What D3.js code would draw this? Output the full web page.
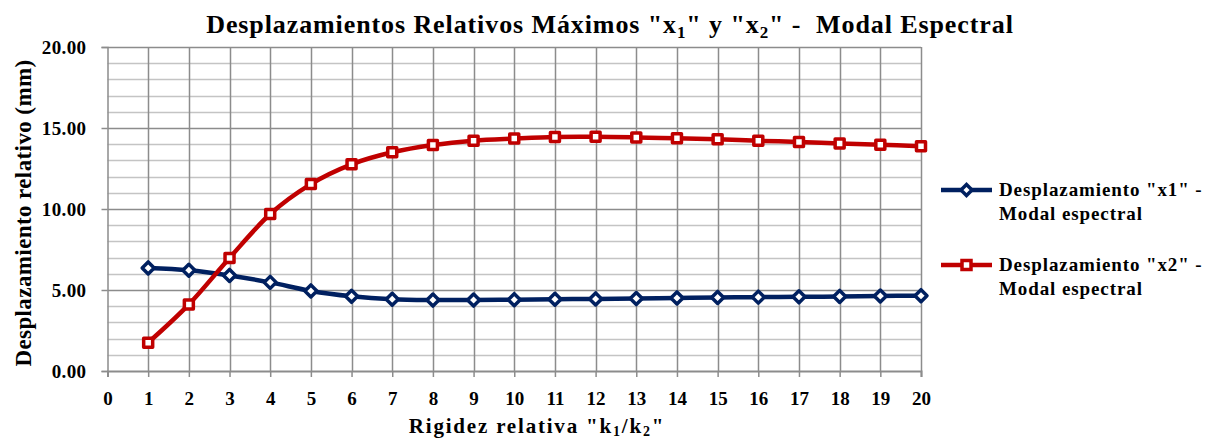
<!DOCTYPE html>
<html>
<head>
<meta charset="utf-8">
<script src="https://cdn.jsdelivr.net/npm/d3@7"></script>
<style>
  html, body { margin: 0; padding: 0; background: #fff; }
  svg { display: block; }
</style>
</head>
<body>
<svg id="chart" width="1214" height="439"></svg>
<script>
// Relative stiffness k1/k2
const stiffness = [1, 2, 3, 4, 5, 6, 7, 8, 9, 10, 11, 12, 13, 14, 15, 16, 17, 18, 19, 20];
// Maximum relative displacement x1 (mm), modal spectral
const dispX1 = [6.36, 6.22, 5.90, 5.47, 4.94, 4.61, 4.43, 4.38, 4.38, 4.40, 4.43, 4.45, 4.47, 4.51, 4.54, 4.56, 4.58, 4.60, 4.63, 4.65];
// Maximum relative displacement x2 (mm), modal spectral
const dispX2 = [1.75, 4.11, 6.98, 9.69, 11.54, 12.76, 13.50, 13.95, 14.22, 14.35, 14.45, 14.46, 14.42, 14.36, 14.30, 14.21, 14.14, 14.05, 13.97, 13.87];
const xTicks = d3.range(0, 21);
const yMajorTicks = [0, 5, 10, 15, 20];
const yMinorTicks = d3.range(0, 21);
const seriesNames = ['Desplazamiento "x1" -', 'Desplazamiento "x2" -'];
const seriesSub = "Modal espectral";

const FONT = "Liberation Serif";
const svg = d3.select("#chart");
const plot = { left: 107.5, right: 921, top: 47, bottom: 371 };

const x = d3.scaleLinear().domain([0, 20]).range([plot.left, plot.right]);
const y = d3.scaleLinear().domain([0, 20]).range([plot.bottom, plot.top]);

const blue = "#002060", red = "#C00000";
const gridDark = "#8c8c8c", gridLight = "#c4c4c4";

function serif(sel, size) {
  return sel.attr("font-family", FONT).attr("font-weight", "bold").attr("font-size", size).attr("fill", "#000");
}

// Minor horizontal grid
svg.append("g").selectAll("line").data(yMinorTicks.filter(v => v % 5 !== 0)).join("line")
  .attr("x1", plot.left).attr("x2", plot.right)
  .attr("y1", d => Math.round(y(d)) + 0.5).attr("y2", d => Math.round(y(d)) + 0.5)
  .attr("stroke", gridLight).attr("stroke-width", 1.5);

// Vertical grid
svg.append("g").selectAll("line").data(xTicks.slice(1)).join("line")
  .attr("x1", d => Math.round(x(d)) + 0.5).attr("x2", d => Math.round(x(d)) + 0.5)
  .attr("y1", plot.top).attr("y2", plot.bottom)
  .attr("stroke", gridDark).attr("stroke-width", 1.5);

// Major horizontal grid
svg.append("g").selectAll("line").data(yMajorTicks.filter(v => v > 0)).join("line")
  .attr("x1", plot.left).attr("x2", plot.right)
  .attr("y1", d => Math.round(y(d)) + 0.5).attr("y2", d => Math.round(y(d)) + 0.5)
  .attr("stroke", gridDark).attr("stroke-width", 1.5);

// Y axis
const yAxis = svg.append("g").attr("transform", `translate(${plot.left},0)`)
  .call(d3.axisLeft(y).tickValues(yMajorTicks).tickFormat(d3.format(".2f")).tickSize(6).tickPadding(15));
yAxis.attr("font-family", null);
yAxis.select(".domain").attr("stroke", gridDark).attr("stroke-width", 1.5);
yAxis.selectAll(".tick line").attr("stroke", gridDark).attr("stroke-width", 1.5);
serif(yAxis.selectAll(".tick text"), 19).attr("letter-spacing", 0.4).attr("dy", "0.33em");

// X axis
const xAxis = svg.append("g").attr("transform", `translate(0,${plot.bottom})`)
  .call(d3.axisBottom(x).tickValues(xTicks).tickFormat(d3.format("d")).tickSize(6).tickPadding(15));
xAxis.attr("font-family", null);
xAxis.select(".domain").attr("stroke", gridDark).attr("stroke-width", 2);
xAxis.selectAll(".tick line").attr("stroke", gridDark).attr("stroke-width", 1.5);
serif(xAxis.selectAll(".tick text"), 19);

// Smoothed series lines
const line = d3.line().x((d, i) => x(stiffness[i])).y(d => y(d)).curve(d3.curveCatmullRom.alpha(0));
svg.append("path").datum(dispX1).attr("d", line).attr("fill", "none")
  .attr("stroke", blue).attr("stroke-width", 4.5).attr("stroke-linejoin", "round");
svg.append("path").datum(dispX2).attr("d", line).attr("fill", "none")
  .attr("stroke", red).attr("stroke-width", 4.5).attr("stroke-linejoin", "round");

// Markers
const diamond = s => `M0,${-s}L${s},0L0,${s}L${-s},0Z`;
const square = s => `M${-s},${-s}H${s}V${s}H${-s}Z`;

svg.append("g").selectAll("path").data(dispX1).join("path")
  .attr("transform", (d, i) => `translate(${x(stiffness[i])},${y(d)})`)
  .attr("d", diamond(6)).attr("fill", "#fff").attr("stroke", blue).attr("stroke-width", 3.5)
  .attr("stroke-linejoin", "round");
svg.append("g").selectAll("path").data(dispX2).join("path")
  .attr("transform", (d, i) => `translate(${x(stiffness[i])},${y(d)})`)
  .attr("d", square(4.5)).attr("fill", "#fff").attr("stroke", red).attr("stroke-width", 3.5)
  .attr("stroke-linejoin", "round");

// Title with subscripts
const title = serif(svg.append("text"), 26).attr("x", 610).attr("y", 33).attr("text-anchor", "middle")
  .attr("letter-spacing", 0.9);
title.append("tspan").text('Desplazamientos Relativos Máximos "x');
title.append("tspan").text("1").attr("dy", 5).attr("font-size", 17);
title.append("tspan").text('" y "x').attr("dy", -5);
title.append("tspan").text("2").attr("dy", 5).attr("font-size", 17);
title.append("tspan").text('" -  Modal Espectral').attr("dy", -5).attr("xml:space", "preserve");

// Axis titles
serif(svg.append("text"), 23)
  .attr("transform", `translate(31,213) rotate(-90)`)
  .attr("text-anchor", "middle").attr("letter-spacing", 0.4).text("Desplazamiento relativo (mm)");

const xt = serif(svg.append("text"), 21).attr("x", 537).attr("y", 433).attr("text-anchor", "middle")
  .attr("letter-spacing", 1.8);
xt.append("tspan").text('Rigidez relativa "k');
xt.append("tspan").text("1").attr("dy", 3).attr("font-size", 14);
xt.append("tspan").text("/k").attr("dy", -3);
xt.append("tspan").text("2").attr("dy", 3).attr("font-size", 14);
xt.append("tspan").text('"').attr("dy", -3);

// Legend
const legendItems = [
  { name: seriesNames[0], color: blue, shape: diamond(5.5), y: 190 },
  { name: seriesNames[1], color: red, shape: square(4.5), y: 265 }
];
const lg = svg.append("g").selectAll("g").data(legendItems).join("g")
  .attr("transform", d => `translate(0,${d.y})`);
lg.append("line").attr("x1", 941).attr("x2", 992).attr("y1", 0).attr("y2", 0)
  .attr("stroke", d => d.color).attr("stroke-width", 4.5);
lg.append("path").attr("transform", "translate(966.5,0)").attr("d", d => d.shape)
  .attr("fill", "#fff").attr("stroke", d => d.color).attr("stroke-width", 3.5);
serif(lg.append("text"), 19).attr("x", 999).attr("y", 6).attr("letter-spacing", 0.9).text(d => d.name);
serif(lg.append("text"), 19).attr("x", 999).attr("y", 30).attr("letter-spacing", 0.9).text(seriesSub);
</script>
</body>
</html>
